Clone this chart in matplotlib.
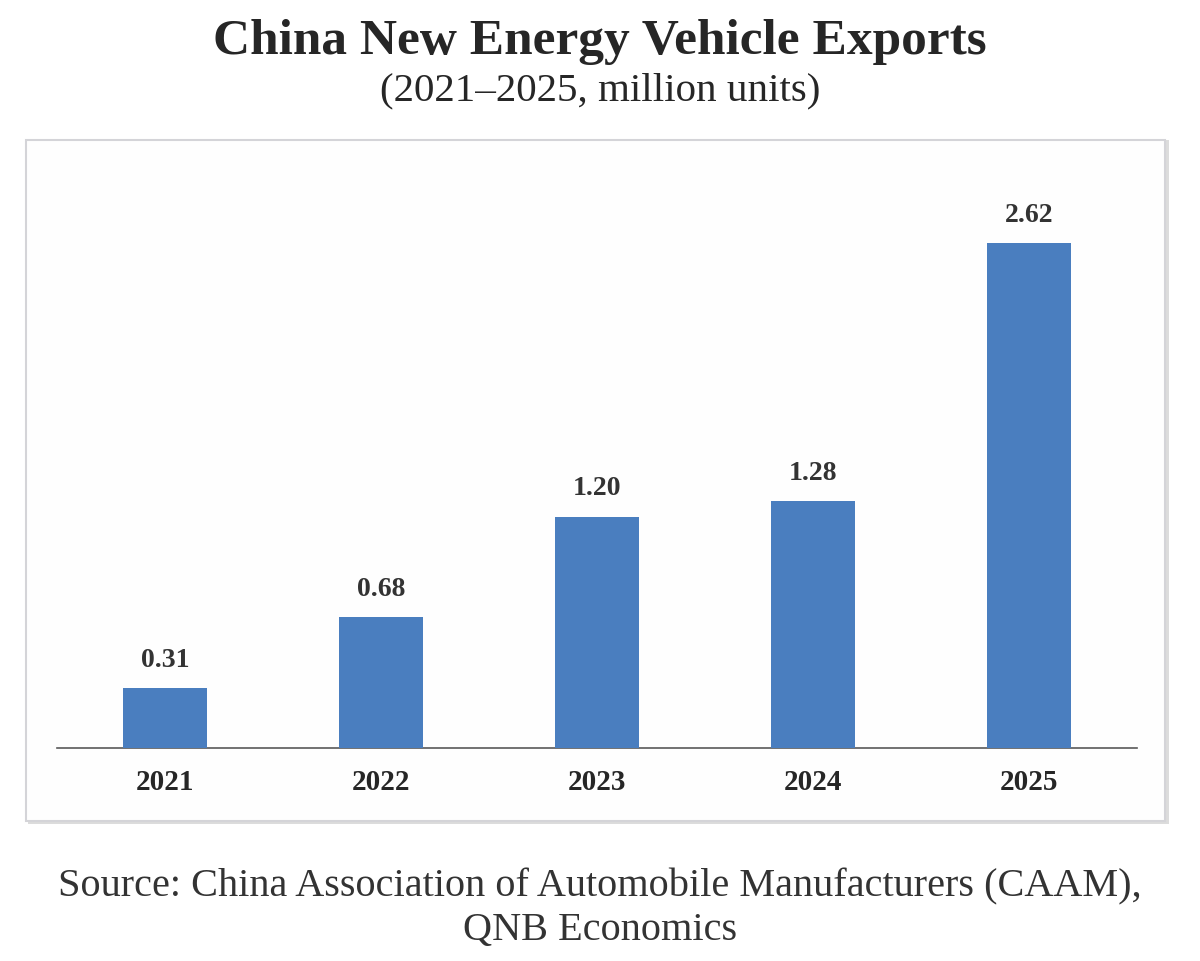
import matplotlib.pyplot as plt
from matplotlib.patches import Rectangle

years = ["2021", "2022", "2023", "2024", "2025"]
exports = [0.31, 0.68, 1.20, 1.28, 2.62]

plt.rcParams['font.family'] = ['Liberation Serif', 'DejaVu Serif']

W, H = 1200, 961
fig = plt.figure(figsize=(W / 100, H / 100), dpi=100)

# chart frame with a soft shadow
fig.patches.append(Rectangle((28 / W, 1 - 824 / H), 1141 / W, 684 / H,
                             transform=fig.transFigure, facecolor='#dcdcdc',
                             edgecolor='none', zorder=0))
fig.patches.append(Rectangle((26 / W, 1 - 821 / H), 1139 / W, 681 / H,
                             transform=fig.transFigure, facecolor='#fefefe',
                             edgecolor='#d4d4d8', linewidth=1.5, zorder=1))

ax = fig.add_axes([57 / W, 1 - 748 / H, (1137 - 57) / W, (748 - 170) / H])
ax.set_zorder(5)
ax.set_facecolor('none')
x = range(len(years))
ax.bar(x, exports, width=0.39, color='#4a7ebf', zorder=3)
for i, v in enumerate(exports):
    ax.text(i, v + 0.08, f"{v:.2f}", ha='center', va='bottom',
            fontsize=20, fontweight='bold', color='#333333')

ax.set_xlim(-0.5, 4.5)
ax.set_ylim(0, 3.0)
ax.set_xticks(list(x))
ax.set_xticklabels(years, fontsize=21, fontweight='bold', color='#262626')
ax.tick_params(axis='x', length=0, pad=15)
ax.set_yticks([])
for s in ['top', 'left', 'right']:
    ax.spines[s].set_visible(False)
ax.spines['bottom'].set_color('#595959')
ax.spines['bottom'].set_linewidth(1.2)

fig.text(0.5, 1 - 42 / H, "China New Energy Vehicle Exports", ha='center',
         va='center', fontsize=37, fontweight='bold', color='#262626')
fig.text(0.5, 1 - 91 / H, "(2021\u20132025, million units)", ha='center',
         va='center', fontsize=29.5, color='#262626')
fig.text(0.5, 1 - 887 / H, "Source: China Association of Automobile Manufacturers (CAAM),",
         ha='center', va='center', fontsize=29, color='#333333')
fig.text(0.5, 1 - 930 / H, "QNB Economics", ha='center', va='center',
         fontsize=29, color='#333333')

fig.savefig("out.png", dpi=100)
